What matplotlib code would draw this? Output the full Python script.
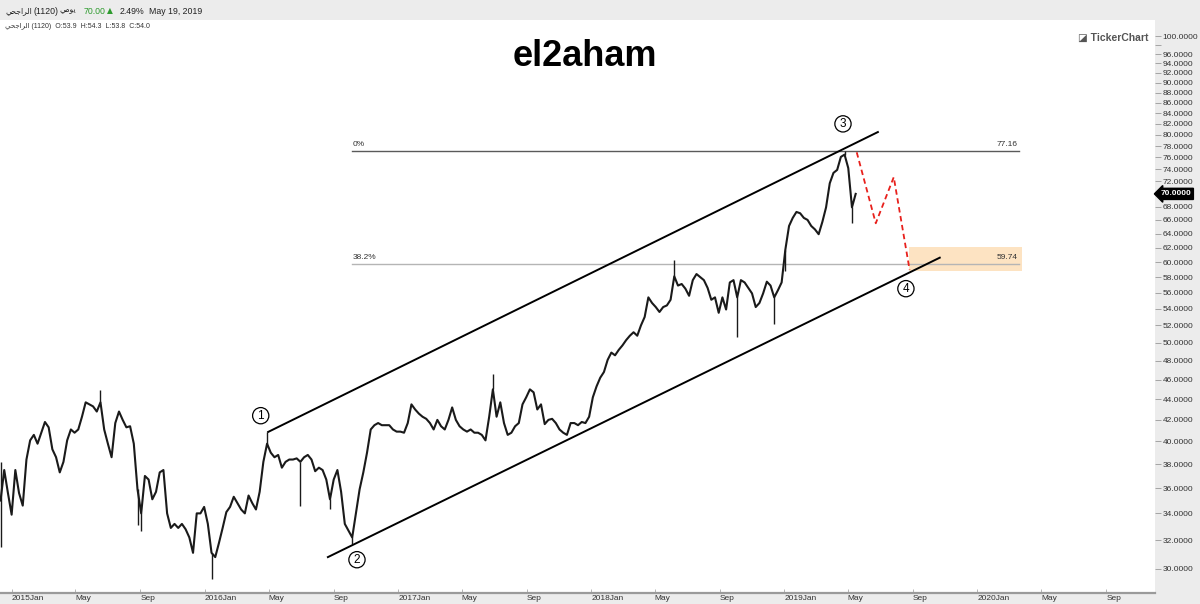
import matplotlib
matplotlib.use('Agg')
import matplotlib.pyplot as plt
import pandas as pd
from matplotlib.ticker import FixedLocator, FixedFormatter, NullLocator

plt.rcParams['font.family'] = ['Liberation Sans', 'DejaVu Sans']

# ---------------- data ----------------
week_start = '2014-12-11'
closes = [
    35.0, 37.5, 35.6, 33.9, 37.5, 35.6, 34.6, 38.4, 40.1, 40.6,
    39.8, 40.8, 41.8, 41.3, 39.3, 38.6, 37.3, 38.2, 40.1, 41.1,
    40.8, 41.1, 42.3, 43.7, 43.5, 43.3, 42.8, 43.7, 41.1, 39.8,
    38.6, 41.7, 42.8, 42.0, 41.3, 41.4, 39.8, 35.9, 34.0, 37.0,
    36.7, 35.1, 35.7, 37.3, 37.5, 34.0, 32.9, 33.2, 32.9, 33.2,
    32.8, 32.2, 31.1, 34.0, 34.0, 34.5, 33.2, 31.1, 30.8, 31.8,
    32.9, 34.1, 34.5, 35.3, 34.8, 34.3, 34.0, 35.4, 34.8, 34.3,
    35.7, 38.2, 39.8, 39.0, 38.6, 38.8, 37.7, 38.2, 38.4, 38.4,
    38.5, 38.2, 38.6, 38.8, 38.4, 37.4, 37.7, 37.5, 36.7, 35.1,
    36.7, 37.5, 35.7, 33.2, 32.7, 32.2, 34.0, 35.9, 37.3, 39.0,
    41.1, 41.5, 41.7, 41.5, 41.5, 41.5, 41.1, 40.9, 40.9, 40.8,
    41.7, 43.5, 43.0, 42.6, 42.3, 42.1, 41.7, 41.1, 42.0, 41.4,
    41.1, 42.0, 43.2, 42.0, 41.4, 41.1, 40.9, 41.1, 40.8, 40.8,
    40.6, 40.1, 42.3, 45.0, 42.3, 43.7, 41.7, 40.6, 40.8, 41.4,
    41.7, 43.5, 44.2, 45.0, 44.7, 43.0, 43.5, 41.6, 42.0, 42.1,
    41.7, 41.1, 40.8, 40.6, 41.7, 41.7, 41.5, 41.8, 41.7, 42.3,
    44.2, 45.3, 46.2, 46.8, 48.1, 48.9, 48.6, 49.2, 49.7, 50.3,
    50.8, 51.2, 50.8, 52.0, 53.0, 55.4, 54.7, 54.2, 53.6, 54.2,
    54.4, 55.1, 58.1, 56.9, 57.1, 56.5, 55.6, 57.6, 58.4, 58.0,
    57.6, 56.6, 55.1, 55.4, 53.5, 55.4, 53.9, 57.3, 57.6, 55.4,
    57.6, 57.3, 56.6, 55.9, 54.2, 54.7, 55.9, 57.4, 56.9, 55.4,
    56.3, 57.3, 61.7, 65.1, 66.3, 67.2, 67.0, 66.3, 66.0, 65.1,
    64.6, 63.9, 65.7, 67.9, 71.7, 73.4, 73.9, 76.1, 76.5, 74.2,
    67.9, 70.0,
]
# notable daily wicks (week index, low, high)
wick_weeks = [0, 27, 37, 38, 57, 72, 81, 89, 95, 133, 182, 199, 209, 212, 228, 230]
wick_low = [31.5, 43.7, 33.1, 32.7, 29.3, 39.8, 34.6, 34.3, 31.7, 45.0, 58.1, 50.6, 52.2, 58.8, 76.5, 65.5]
wick_high = [38.2, 44.9, 35.9, 34.0, 31.1, 40.9, 38.2, 35.1, 32.2, 46.6, 60.3, 55.4, 55.4, 61.7, 77.16, 67.9]

upper_channel_dates = ['2016-04-30', '2019-06-27']
upper_channel_vals = [40.87, 80.5]
lower_channel_dates = ['2016-08-21', '2019-10-22']
lower_channel_vals = [30.8, 60.6]

projection_dates = ['2019-05-18', '2019-06-23', '2019-07-27', '2019-08-26']
projection_vals = [76.9, 65.5, 72.7, 58.95]

fib_levels = [77.16, 59.74]
fib_names = ['0%', '38.2%']
fib_start, fib_end = '2016-10-05', '2020-03-19'
zone_low, zone_high = 58.85, 62.1
zone_start, zone_end = '2019-08-25', '2020-03-25'

wave_labels = ['1', '2', '3', '4']
wave_dates = ['2016-04-16', '2016-10-15', '2019-04-22', '2019-08-19']
wave_vals = [42.4, 30.62, 82.0, 56.5]

last_price = 70.00
ytick_vals = list(range(30, 102, 2))
ytick_labels = ['' if v == 98 else f'{v:.4f}' for v in ytick_vals]
xtick_dates = [f'{y}-{m:02d}-01' for y in range(2015, 2021) for m in (1, 5, 9)]
xtick_labels = [f'{d[:4]}Jan' if d[5:7] == '01' else {'05': 'May', '09': 'Sep'}[d[5:7]]
                for d in xtick_dates]

# ---------------- figure ----------------
W, H = 1200, 604
fig = plt.figure(figsize=(W / 100, H / 100), dpi=100, facecolor='#ececec')
ax = fig.add_axes([0, 1 - 593 / H, 1155 / W, (593 - 20) / H])
ax.set_facecolor('white')

dates = pd.date_range(week_start, periods=len(closes), freq='7D')
ax.plot(dates, closes, color='#1a1a1a', lw=1.5, zorder=3)
ax.vlines(dates[wick_weeks], wick_low, wick_high, color='#1a1a1a', lw=1.0, zorder=3)

ax.set_yscale('log')
ax.set_ylim(28.4, 103.7)
ax.set_xlim(pd.Timestamp('2014-12-10'), pd.Timestamp('2020-12-02'))

# Fibonacci zone and levels
ax.fill_between(pd.to_datetime([zone_start, zone_end]), zone_low, zone_high,
                color='#fde3c2', lw=0, zorder=1)
fib_colors = ['#5a5a5a', '#b5b5b5']
for lvl, name, c in zip(fib_levels, fib_names, fib_colors):
    ax.plot(pd.to_datetime([fib_start, fib_end]), [lvl, lvl], color=c, lw=1.0, zorder=2)
    ax.annotate(name, xy=(pd.Timestamp(fib_start), lvl), xytext=(1, 2),
                textcoords='offset points', fontsize=6, color='#333', va='bottom', ha='left')
    ax.annotate(f'{lvl:.2f}', xy=(pd.Timestamp(fib_end), lvl), xytext=(-1, 2),
                textcoords='offset points', fontsize=6, color='#333', va='bottom', ha='right')

# channel
ax.plot(pd.to_datetime(upper_channel_dates), upper_channel_vals, color='black', lw=1.4, zorder=4)
ax.plot(pd.to_datetime(lower_channel_dates), lower_channel_vals, color='black', lw=1.4, zorder=4)

# projection
ax.plot(pd.to_datetime(projection_dates), projection_vals, color='#e8201c', lw=1.3,
        ls=(0, (3, 2)), zorder=4)

# wave labels
for lab, d, v in zip(wave_labels, wave_dates, wave_vals):
    ax.text(pd.Timestamp(d), v, lab, ha='center', va='center', fontsize=8.5, color='black',
            zorder=5, bbox=dict(boxstyle='circle,pad=0.18', fc='white', ec='black', lw=0.9))

# axes styling
for s in ('top', 'left', 'right'):
    ax.spines[s].set_visible(False)
ax.spines['bottom'].set_color('#9a9a9a')
ax.spines['bottom'].set_linewidth(1.6)

ax.yaxis.set_ticks_position('right')
ax.yaxis.set_major_locator(FixedLocator(ytick_vals))
ax.yaxis.set_major_formatter(FixedFormatter(ytick_labels))
ax.yaxis.set_minor_locator(NullLocator())
ax.tick_params(axis='y', direction='out', length=4, width=0.6, color='#999',
               labelsize=6, labelcolor='#333', pad=1.5)

ax.xaxis.set_major_locator(FixedLocator(list(pd.to_datetime(xtick_dates).map(
    lambda t: matplotlib.dates.date2num(t)))))
ax.xaxis.set_major_formatter(FixedFormatter(xtick_labels))
ax.xaxis.set_minor_locator(NullLocator())
ax.tick_params(axis='x', direction='in', length=3, width=0.6, color='#aaa',
               labelsize=6, labelcolor='#333', pad=1.5)
for lbl in ax.get_xticklabels():
    lbl.set_ha('left')

# current price tag
ax.annotate(f'{last_price:.4f}', xy=(1, last_price), xycoords=('axes fraction', 'data'),
            xytext=(4, 0), textcoords='offset points', ha='left', va='center',
            fontsize=6, fontweight='bold', color='white', annotation_clip=False,
            bbox=dict(boxstyle='larrow,pad=0.25', fc='black', ec='black'))

# header
def ftxt(x, y, s, **kw):
    fig.text(x / W, 1 - y / H, s, va='center', **kw)

name_ar = '\ufef2\ufea4\ufe9f\ufe8d\ufeae\ufedf\ufe8d'
daily_ar = '\ufef2\ufee3\ufeee\ufef3'
ftxt(5, 11, name_ar, fontsize=5.5, color='#222')
ftxt(33, 11, '(1120)', fontsize=6.3, color='#222')
ftxt(60, 11, daily_ar, fontsize=5.5, color='#222')
ftxt(84, 11, '70.00', fontsize=6.3, color='#2e9b2e')
ftxt(107, 11, '\u25b2', fontsize=5.5, color='#2e9b2e', family=['DejaVu Sans'])
ftxt(120, 11, '2.49%', fontsize=6.3, color='#222')
ftxt(149, 11, 'May 19, 2019', fontsize=6.3, color='#222')
ftxt(5, 27, name_ar + ' (1120)  O:53.9  H:54.3  L:53.8  C:54.0', fontsize=5.0, color='#333')

ftxt(585, 56, 'el2aham', ha='center', fontsize=26, fontweight='bold', color='black')
ftxt(1148, 38, '\u25ea TickerChart', ha='right', fontsize=7.5, fontweight='bold', color='#555')

fig.savefig('out.png', dpi=100, facecolor=fig.get_facecolor())
